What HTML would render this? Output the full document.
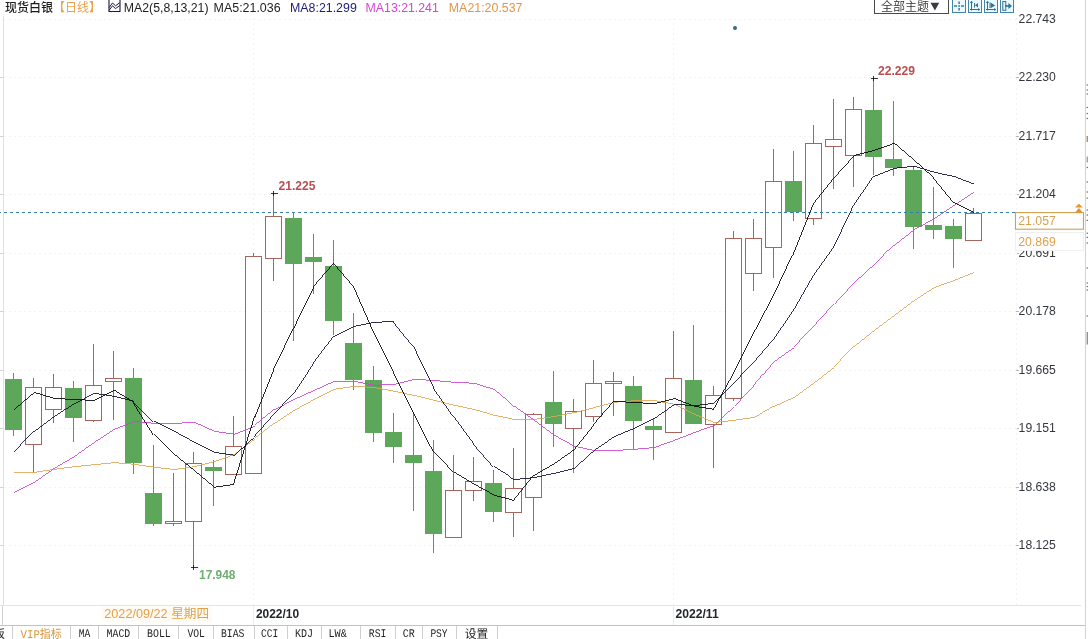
<!DOCTYPE html>
<html lang="zh-CN">
<head>
<meta charset="utf-8">
<title>现货白银 日线</title>
<style>
html,body{margin:0;padding:0;background:#fff;}
body{width:1088px;height:639px;overflow:hidden;position:relative;}
svg{position:absolute;left:0;top:0;display:block;will-change:transform;opacity:0.999;}
text{font-family:"Liberation Sans","Noto Sans CJK SC",sans-serif;font-size:12px;}
.cj{font-weight:350;}
.g{stroke:#f3f3f3;stroke-width:1;stroke-dasharray:2,3;}
.ax{fill:#34373e;font-size:12.5px;}
.tab text{font-family:"Liberation Mono","Noto Sans CJK SC",monospace;font-size:12px;fill:#222;text-rendering:geometricPrecision;}
.tab text.lt{font-size:11.7px;text-rendering:geometricPrecision;}
.sep{stroke:#cfcfcf;stroke-width:1;}
.b{font-weight:bold;}
</style>
</head>
<body>
<svg width="1088" height="639" viewBox="0 0 1088 639">
<rect x="0" y="0" width="1088" height="639" fill="#ffffff"/>
<line x1="4" y1="19.5" x2="1016" y2="19.5" class="g"/>
<line x1="4" y1="77.5" x2="1016" y2="77.5" class="g"/>
<line x1="4" y1="136.5" x2="1016" y2="136.5" class="g"/>
<line x1="4" y1="194.5" x2="1016" y2="194.5" class="g"/>
<line x1="4" y1="253.5" x2="1016" y2="253.5" class="g"/>
<line x1="4" y1="311.5" x2="1016" y2="311.5" class="g"/>
<line x1="4" y1="370.5" x2="1016" y2="370.5" class="g"/>
<line x1="4" y1="428.5" x2="1016" y2="428.5" class="g"/>
<line x1="4" y1="487.5" x2="1016" y2="487.5" class="g"/>
<line x1="4" y1="545.5" x2="1016" y2="545.5" class="g"/>
<line x1="0" y1="77.5" x2="4" y2="77.5" stroke="#d2d2d2" stroke-width="1"/>
<line x1="0" y1="136.5" x2="4" y2="136.5" stroke="#d2d2d2" stroke-width="1"/>
<line x1="0" y1="194.5" x2="4" y2="194.5" stroke="#d2d2d2" stroke-width="1"/>
<line x1="0" y1="253.5" x2="4" y2="253.5" stroke="#d2d2d2" stroke-width="1"/>
<line x1="0" y1="311.5" x2="4" y2="311.5" stroke="#d2d2d2" stroke-width="1"/>
<line x1="0" y1="370.5" x2="4" y2="370.5" stroke="#d2d2d2" stroke-width="1"/>
<line x1="0" y1="428.5" x2="4" y2="428.5" stroke="#d2d2d2" stroke-width="1"/>
<line x1="0" y1="487.5" x2="4" y2="487.5" stroke="#d2d2d2" stroke-width="1"/>
<line x1="0" y1="545.5" x2="4" y2="545.5" stroke="#d2d2d2" stroke-width="1"/>
<line x1="1016" y1="77.5" x2="1019" y2="77.5" stroke="#b4b4b4" stroke-width="1"/>
<line x1="1016" y1="136.5" x2="1019" y2="136.5" stroke="#b4b4b4" stroke-width="1"/>
<line x1="1016" y1="194.5" x2="1019" y2="194.5" stroke="#b4b4b4" stroke-width="1"/>
<line x1="1016" y1="253.5" x2="1019" y2="253.5" stroke="#b4b4b4" stroke-width="1"/>
<line x1="1016" y1="311.5" x2="1019" y2="311.5" stroke="#b4b4b4" stroke-width="1"/>
<line x1="1016" y1="370.5" x2="1019" y2="370.5" stroke="#b4b4b4" stroke-width="1"/>
<line x1="1016" y1="428.5" x2="1019" y2="428.5" stroke="#b4b4b4" stroke-width="1"/>
<line x1="1016" y1="487.5" x2="1019" y2="487.5" stroke="#b4b4b4" stroke-width="1"/>
<line x1="1016" y1="545.5" x2="1019" y2="545.5" stroke="#b4b4b4" stroke-width="1"/>
<line x1="253.5" y1="18" x2="253.5" y2="605" class="g"/>
<line x1="673.5" y1="18" x2="673.5" y2="605" class="g"/>
<line x1="1016.5" y1="18" x2="1016.5" y2="605" class="g"/>
<line x1="3.5" y1="16" x2="3.5" y2="605" stroke="#e0e0e0" stroke-width="1"/>
<line x1="2.5" y1="605" x2="2.5" y2="625" stroke="#d0d0d0" stroke-width="1"/>
<line x1="0" y1="605.5" x2="1081" y2="605.5" stroke="#e4e4e4" stroke-width="1"/>
<line x1="253.5" y1="605" x2="253.5" y2="625" stroke="#ececec" stroke-width="1"/>
<line x1="673.5" y1="605" x2="673.5" y2="625" stroke="#ececec" stroke-width="1"/>
<line x1="0" y1="625.5" x2="1085" y2="625.5" stroke="#c2c2c2" stroke-width="1.1"/>
<line x1="1085.5" y1="0" x2="1085.5" y2="639" stroke="#cfd3d6" stroke-width="1"/>
<g shape-rendering="crispEdges">
<line x1="13.5" y1="372.5" x2="13.5" y2="435.5" stroke="#678c6a" stroke-width="1"/>
<rect x="5.0" y="378.75" width="17" height="51.2" fill="#5ca75a"/>
<line x1="33.5" y1="377.5" x2="33.5" y2="473" stroke="#a6645d" stroke-width="1"/>
<rect x="25.5" y="387.5" width="16" height="56.5" fill="#fff" stroke="#a6645d" stroke-width="1"/>
<line x1="53.5" y1="374" x2="53.5" y2="423" stroke="#a6645d" stroke-width="1"/>
<rect x="45.5" y="387.5" width="16" height="21.5" fill="#fff" stroke="#a6645d" stroke-width="1"/>
<line x1="73.5" y1="381" x2="73.5" y2="442" stroke="#678c6a" stroke-width="1"/>
<rect x="65.0" y="388" width="17" height="29.5" fill="#5ca75a"/>
<line x1="93.5" y1="344" x2="93.5" y2="422" stroke="#a6645d" stroke-width="1"/>
<rect x="85.5" y="385.5" width="16" height="34.5" fill="#fff" stroke="#a6645d" stroke-width="1"/>
<line x1="113.5" y1="351" x2="113.5" y2="419.5" stroke="#a6645d" stroke-width="1"/>
<rect x="105.5" y="378.5" width="16" height="3.0" fill="#fff" stroke="#a6645d" stroke-width="1"/>
<line x1="133.5" y1="368" x2="133.5" y2="474" stroke="#678c6a" stroke-width="1"/>
<rect x="125.0" y="378" width="17" height="84.5" fill="#5ca75a"/>
<line x1="153.5" y1="445" x2="153.5" y2="526" stroke="#678c6a" stroke-width="1"/>
<rect x="145.0" y="493" width="17" height="30.5" fill="#5ca75a"/>
<line x1="173.5" y1="473" x2="173.5" y2="526" stroke="#a6645d" stroke-width="1"/>
<rect x="165.5" y="521.0" width="16" height="2.0" fill="#fff" stroke="#a6645d" stroke-width="1"/>
<line x1="193.5" y1="452" x2="193.5" y2="567.5" stroke="#a6645d" stroke-width="1"/>
<rect x="185.5" y="463.5" width="16" height="57.5" fill="#fff" stroke="#a6645d" stroke-width="1"/>
<line x1="213.5" y1="459.5" x2="213.5" y2="506" stroke="#678c6a" stroke-width="1"/>
<rect x="205.0" y="467" width="17" height="3.5" fill="#5ca75a"/>
<line x1="233.5" y1="416" x2="233.5" y2="474" stroke="#a6645d" stroke-width="1"/>
<rect x="225.5" y="446.5" width="16" height="27.5" fill="#fff" stroke="#a6645d" stroke-width="1"/>
<line x1="253.5" y1="252.5" x2="253.5" y2="473" stroke="#a6645d" stroke-width="1"/>
<rect x="245.5" y="256.5" width="16" height="216.5" fill="#fff" stroke="#a6645d" stroke-width="1"/>
<line x1="273.5" y1="193" x2="273.5" y2="281" stroke="#a6645d" stroke-width="1"/>
<rect x="265.5" y="216.5" width="16" height="41.5" fill="#fff" stroke="#a6645d" stroke-width="1"/>
<line x1="293.5" y1="212.5" x2="293.5" y2="341" stroke="#678c6a" stroke-width="1"/>
<rect x="285.0" y="218" width="17" height="45.5" fill="#5ca75a"/>
<line x1="313.5" y1="234" x2="313.5" y2="294" stroke="#678c6a" stroke-width="1"/>
<rect x="305.0" y="257" width="17" height="4.5" fill="#5ca75a"/>
<line x1="333.5" y1="240" x2="333.5" y2="334.5" stroke="#678c6a" stroke-width="1"/>
<rect x="325.0" y="266" width="17" height="54.5" fill="#5ca75a"/>
<line x1="353.5" y1="313" x2="353.5" y2="389.5" stroke="#678c6a" stroke-width="1"/>
<rect x="345.0" y="343" width="17" height="36.5" fill="#5ca75a"/>
<line x1="373.5" y1="365.5" x2="373.5" y2="442" stroke="#678c6a" stroke-width="1"/>
<rect x="365.0" y="380" width="17" height="52.5" fill="#5ca75a"/>
<line x1="393.5" y1="412.5" x2="393.5" y2="463" stroke="#678c6a" stroke-width="1"/>
<rect x="385.0" y="432" width="17" height="14.5" fill="#5ca75a"/>
<line x1="413.5" y1="413" x2="413.5" y2="510.6" stroke="#678c6a" stroke-width="1"/>
<rect x="405.0" y="455" width="17" height="7.5" fill="#5ca75a"/>
<line x1="433.5" y1="440" x2="433.5" y2="552.5" stroke="#678c6a" stroke-width="1"/>
<rect x="425.0" y="471" width="17" height="62.6" fill="#5ca75a"/>
<line x1="453.5" y1="454.5" x2="453.5" y2="538" stroke="#a6645d" stroke-width="1"/>
<rect x="445.5" y="490.5" width="16" height="47.0" fill="#fff" stroke="#a6645d" stroke-width="1"/>
<line x1="473.5" y1="457" x2="473.5" y2="501" stroke="#a6645d" stroke-width="1"/>
<rect x="465.5" y="481.5" width="16" height="8.5" fill="#fff" stroke="#a6645d" stroke-width="1"/>
<line x1="493.5" y1="470" x2="493.5" y2="522" stroke="#678c6a" stroke-width="1"/>
<rect x="485.0" y="483" width="17" height="28.5" fill="#5ca75a"/>
<line x1="513.5" y1="448" x2="513.5" y2="537" stroke="#a6645d" stroke-width="1"/>
<rect x="505.5" y="488.5" width="16" height="23.5" fill="#fff" stroke="#a6645d" stroke-width="1"/>
<line x1="533.5" y1="413" x2="533.5" y2="530.5" stroke="#a6645d" stroke-width="1"/>
<rect x="525.5" y="414.5" width="16" height="82.5" fill="#fff" stroke="#a6645d" stroke-width="1"/>
<line x1="553.5" y1="371" x2="553.5" y2="447" stroke="#678c6a" stroke-width="1"/>
<rect x="545.0" y="402" width="17" height="21.5" fill="#5ca75a"/>
<line x1="573.5" y1="399" x2="573.5" y2="472.5" stroke="#a6645d" stroke-width="1"/>
<rect x="565.5" y="411.5" width="16" height="16.5" fill="#fff" stroke="#a6645d" stroke-width="1"/>
<line x1="593.5" y1="360" x2="593.5" y2="422" stroke="#a6645d" stroke-width="1"/>
<rect x="585.5" y="383.5" width="16" height="32.5" fill="#fff" stroke="#a6645d" stroke-width="1"/>
<line x1="613.5" y1="372" x2="613.5" y2="415.5" stroke="#a6645d" stroke-width="1"/>
<rect x="605.5" y="381.5" width="16" height="2.0" fill="#fff" stroke="#a6645d" stroke-width="1"/>
<line x1="633.5" y1="376" x2="633.5" y2="449" stroke="#678c6a" stroke-width="1"/>
<rect x="625.0" y="386" width="17" height="34.5" fill="#5ca75a"/>
<line x1="653.5" y1="419" x2="653.5" y2="459.5" stroke="#678c6a" stroke-width="1"/>
<rect x="645.0" y="426" width="17" height="4.0" fill="#5ca75a"/>
<line x1="673.5" y1="331" x2="673.5" y2="432" stroke="#a6645d" stroke-width="1"/>
<rect x="665.5" y="378.5" width="16" height="53.5" fill="#fff" stroke="#a6645d" stroke-width="1"/>
<line x1="693.5" y1="325" x2="693.5" y2="424" stroke="#678c6a" stroke-width="1"/>
<rect x="685.0" y="380" width="17" height="44.0" fill="#5ca75a"/>
<line x1="713.5" y1="386" x2="713.5" y2="467.5" stroke="#a6645d" stroke-width="1"/>
<rect x="705.5" y="395.5" width="16" height="28.5" fill="#fff" stroke="#a6645d" stroke-width="1"/>
<line x1="733.5" y1="231" x2="733.5" y2="400.5" stroke="#a6645d" stroke-width="1"/>
<rect x="725.5" y="238.5" width="16" height="159.5" fill="#fff" stroke="#a6645d" stroke-width="1"/>
<line x1="753.5" y1="219" x2="753.5" y2="291" stroke="#a6645d" stroke-width="1"/>
<rect x="745.5" y="238.5" width="16" height="35.0" fill="#fff" stroke="#a6645d" stroke-width="1"/>
<line x1="773.5" y1="149" x2="773.5" y2="278" stroke="#a6645d" stroke-width="1"/>
<rect x="765.5" y="181.5" width="16" height="66.0" fill="#fff" stroke="#a6645d" stroke-width="1"/>
<line x1="793.5" y1="150.5" x2="793.5" y2="221" stroke="#678c6a" stroke-width="1"/>
<rect x="785.0" y="181" width="17" height="31.0" fill="#5ca75a"/>
<line x1="813.5" y1="124.5" x2="813.5" y2="225" stroke="#a6645d" stroke-width="1"/>
<rect x="805.5" y="143.5" width="16" height="74.7" fill="#fff" stroke="#a6645d" stroke-width="1"/>
<line x1="833.5" y1="99" x2="833.5" y2="189" stroke="#a6645d" stroke-width="1"/>
<rect x="825.5" y="139.5" width="16" height="6.5" fill="#fff" stroke="#a6645d" stroke-width="1"/>
<line x1="853.5" y1="97" x2="853.5" y2="187" stroke="#a6645d" stroke-width="1"/>
<rect x="845.5" y="109.5" width="16" height="45.5" fill="#fff" stroke="#a6645d" stroke-width="1"/>
<line x1="873.5" y1="78" x2="873.5" y2="175" stroke="#678c6a" stroke-width="1"/>
<rect x="865.0" y="110" width="17" height="47.0" fill="#5ca75a"/>
<line x1="893.5" y1="101" x2="893.5" y2="176" stroke="#678c6a" stroke-width="1"/>
<rect x="885.0" y="159" width="17" height="8.5" fill="#5ca75a"/>
<line x1="913.5" y1="166" x2="913.5" y2="249" stroke="#678c6a" stroke-width="1"/>
<rect x="905.0" y="170" width="17" height="57.0" fill="#5ca75a"/>
<line x1="933.5" y1="187" x2="933.5" y2="239" stroke="#678c6a" stroke-width="1"/>
<rect x="925.0" y="225" width="17" height="4.5" fill="#5ca75a"/>
<line x1="953.5" y1="219" x2="953.5" y2="267.5" stroke="#678c6a" stroke-width="1"/>
<rect x="945.0" y="226" width="17" height="13.0" fill="#5ca75a"/>
<line x1="973.5" y1="208" x2="973.5" y2="240.5" stroke="#a6645d" stroke-width="1"/>
<rect x="965.5" y="213.5" width="16" height="27.0" fill="#fff" stroke="#a6645d" stroke-width="1"/>
</g>
<line x1="-2" y1="212.5" x2="1016" y2="212.5" stroke="#337fab" stroke-width="1" stroke-dasharray="3,3" shape-rendering="crispEdges"/>
<polyline points="13.5,472.4 33.5,472.4 53.5,469.3 73.5,466.7 93.5,464.7 113.5,462.6 133.5,464.3 153.5,467.3 173.5,469.5 193.5,466.7 213.5,461.7 233.5,454.5 253.5,439.3 273.5,423.5 293.5,410.3 313.5,399.3 333.5,389.3 353.5,386.3 373.5,387.5 393.5,391.3 413.5,395.5 433.5,400.3 453.5,405.3 473.5,409.5 493.5,415.3 513.5,419.3 533.5,419.3 553.5,416.5 573.5,412.5 593.5,407.5 613.5,402.3 633.5,400.7 653.5,400.5 673.5,404.3 693.5,414.3 713.5,422.5 733.5,420.3 753.5,417.3 773.5,406.3 793.5,397.3 813.5,382.6 833.5,367.4 853.5,346.3 873.5,330.3 893.5,315.5 913.5,300.3 933.5,287.5 953.5,280.3 973.5,272.3" fill="none" stroke="#dfa452" stroke-width="0.85" shape-rendering="crispEdges"/>
<polyline points="13.5,492.3 33.5,482.3 53.5,468.3 73.5,456.5 93.5,442.3 113.5,429.3 133.5,421.5 153.5,423.3 173.5,423.4 193.5,422.3 213.5,431.3 233.5,434.3 253.5,426.3 273.5,409.7 293.5,399.3 313.5,390.3 333.5,381.3 353.5,381.3 373.5,385.3 393.5,384.3 413.5,379.3 433.5,380.5 453.5,382.3 473.5,383.3 493.5,389.5 513.5,406.3 533.5,420.3 553.5,435.3 573.5,446.3 593.5,450.5 613.5,450.5 633.5,449.3 653.5,447.5 673.5,440.3 693.5,432.5 713.5,425.3 733.5,406.3 753.5,385.5 773.5,361.5 793.5,347.3 813.5,326.3 833.5,304.3 853.5,282.5 873.5,264.3 893.5,245.3 913.5,229.5 933.5,218.6 953.5,205.3 973.5,191.7" fill="none" stroke="#c544cb" stroke-width="0.85" shape-rendering="crispEdges"/>
<polyline points="13.5,452.4 33.5,431.3 53.5,416.3 73.5,403.6 93.5,393.4 113.5,396.3 133.5,401.5 153.5,421.5 173.5,431.3 193.5,442.3 213.5,452.3 233.5,455.3 253.5,437.3 273.5,414.6 293.5,393.3 313.5,362.5 333.5,336.3 353.5,326.3 373.5,322.3 393.5,321.5 413.5,346.3 433.5,387.5 453.5,416.3 473.5,443.5 493.5,466.5 513.5,479.5 533.5,477.5 553.5,473.3 573.5,468.3 593.5,450.3 613.5,436.5 633.5,428.3 653.5,418.5 673.5,404.4 693.5,405.6 713.5,403.3 733.5,383.3 753.5,362.4 773.5,339.3 793.5,310.3 813.5,275.3 833.5,247.3 853.5,205.3 873.5,176.3 893.5,168.3 913.5,166.3 933.5,172.3 953.5,176.6 973.5,184.3" fill="none" stroke="#0b0b2c" stroke-width="0.85" shape-rendering="crispEdges"/>
<polyline points="13.5,409.3 33.5,392.4 53.5,398.5 73.5,399.5 93.5,400.5 113.5,390.4 133.5,402.5 153.5,434.5 173.5,454.3 193.5,470.6 213.5,487.3 233.5,484.3 253.5,419.7 273.5,369.5 293.5,327.7 313.5,286.5 333.5,263.3 353.5,286.7 373.5,332.3 393.5,372.5 413.5,412.5 433.5,451.3 453.5,472.3 473.5,484.3 493.5,495.3 513.5,500.3 533.5,475.3 553.5,463.5 573.5,449.5 593.5,424.5 613.5,401.3 633.5,402.5 653.5,403.7 673.5,398.5 693.5,406.3 713.5,409.4 733.5,373.3 753.5,333.3 773.5,295.3 793.5,252.5 813.5,202.5 833.5,177.5 853.5,155.5 873.5,150.3 893.5,143.3 913.5,160.3 933.5,178.4 953.5,202.6 973.5,212.6" fill="none" stroke="#000000" stroke-width="0.85" shape-rendering="crispEdges"/>
<line x1="270.5" y1="193.5" x2="277.5" y2="193.5" stroke="#111" stroke-width="0.85" shape-rendering="crispEdges"/>
<line x1="273.5" y1="191.0" x2="273.5" y2="195.5" stroke="#111" stroke-width="0.85" shape-rendering="crispEdges"/>
<line x1="870.5" y1="78.5" x2="877.5" y2="78.5" stroke="#111" stroke-width="0.85" shape-rendering="crispEdges"/>
<line x1="873.5" y1="76.0" x2="873.5" y2="80.5" stroke="#111" stroke-width="0.85" shape-rendering="crispEdges"/>
<line x1="190.5" y1="567.5" x2="197.5" y2="567.5" stroke="#111" stroke-width="0.85" shape-rendering="crispEdges"/>
<line x1="193.5" y1="565.0" x2="193.5" y2="569.5" stroke="#111" stroke-width="0.85" shape-rendering="crispEdges"/><!-- title row -->
<text x="5" y="12" style="font-weight:500" fill="#1c1c1c" textLength="48" lengthAdjust="spacingAndGlyphs">现货白银</text>
<text x="53" y="12" fill="#e9a34b" textLength="48" lengthAdjust="spacingAndGlyphs">【日线】</text>
<g fill="none" stroke="#1a163e" stroke-width="1.1">
<path d="M109 0 V11.5 H120 V0"/>
<polyline points="109,7.6 112.5,3 115.5,5.8 119.6,2.8" stroke-width="1"/>
<polyline points="109,10.4 112.5,5.8 115.5,8.6 119.6,5.6" stroke-width="1"/>
</g>
<text x="123.8" y="11.5" fill="#222" style="font-size:12.5px" textLength="84.7" lengthAdjust="spacingAndGlyphs">MA2(5,8,13,21)</text>
<text x="213.6" y="11.5" fill="#222" style="font-size:12.5px" textLength="67" lengthAdjust="spacingAndGlyphs">MA5:21.036</text>
<text x="290" y="11.5" fill="#1c1c7c" style="font-size:12.5px" textLength="66.8" lengthAdjust="spacingAndGlyphs">MA8:21.299</text>
<text x="365.6" y="11.5" fill="#d444d6" style="font-size:12.5px" textLength="73.2" lengthAdjust="spacingAndGlyphs">MA13:21.241</text>
<text x="448.8" y="11.5" fill="#e3964a" style="font-size:12.5px" textLength="73.7" lengthAdjust="spacingAndGlyphs">MA21:20.537</text>

<!-- top-right button + icons -->
<rect x="874.5" y="-2" width="74" height="15.5" fill="#fff" stroke="#4a4a4a" stroke-width="1"/>
<text x="881" y="11" class="cj" fill="#333" textLength="48" lengthAdjust="spacingAndGlyphs">全部主题</text>
<path d="M930.5 2.8 L939.3 2.8 L934.9 10.6 Z" fill="#3a3a42"/>
<g stroke="#4284a8" stroke-width="1" fill="#edf8fd">
<rect x="952.5" y="-2" width="13" height="14.5"/>
<rect x="968.5" y="-2" width="13" height="14.5"/>
<rect x="984.5" y="-2" width="13" height="14.5"/>
<rect x="1000.5" y="-2" width="13" height="14.5"/>
</g>
<g fill="#2f7299" stroke="none">
<!-- icon1 dotted cross -->
<rect x="958.3" y="5.2" width="1.6" height="1.6"/>
<rect x="954" y="5.3" width="3" height="1.4"/>
<rect x="961" y="5.3" width="3" height="1.4"/>
<rect x="958.4" y="1.5" width="1.4" height="2.5"/>
<rect x="958.4" y="8" width="1.4" height="2.5"/>
</g>
<g stroke="#2f7299" stroke-width="1" fill="#2f7299">
<!-- icon2 -->
<line x1="971.5" y1="1.5" x2="971.5" y2="10.5"/>
<line x1="970" y1="9.5" x2="979.5" y2="9.5"/>
<line x1="974.5" y1="3" x2="974.5" y2="7.5"/>
<path d="M970.2 3 L971.5 1.2 L972.8 3 M978.2 8.3 L979.8 9.5 L978.2 10.7" fill="none" stroke-width="0.8"/>
<path d="M978 3 L975 5.2 L978 7.5 Z" stroke="none"/>
<!-- icon3 -->
<line x1="987.5" y1="1.5" x2="987.5" y2="10.5"/>
<line x1="986" y1="9.5" x2="995.5" y2="9.5"/>
<line x1="990" y1="2.5" x2="990" y2="8"/>
<path d="M986.2 3 L987.5 1.2 L988.8 3 M994.2 8.3 L995.8 9.5 L994.2 10.7" fill="none" stroke-width="0.8"/>
<path d="M990.6 2.6 L995.2 5.4 L990.6 8.2 Z" stroke="none"/>
<!-- icon4 -->
<rect x="1002.8" y="1.5" width="3" height="8.8" fill="#e9f6fc"/>
<line x1="1005" y1="6" x2="1010" y2="6" stroke-width="1.6"/>
<path d="M1008.4 3 L1012 6 L1008.4 9 Z" stroke="none"/>
</g>

<!-- blue dot -->
<circle cx="735" cy="28" r="2" fill="#2d6e8a"/>

<!-- hi/lo labels -->
<text x="278.5" y="190" class="b" fill="#b84e50" textLength="37" lengthAdjust="spacingAndGlyphs">21.225</text>
<text x="878" y="75" class="b" fill="#b84e50" textLength="37" lengthAdjust="spacingAndGlyphs">22.229</text>
<text x="199" y="579" class="b" fill="#6fae70" textLength="36.5" lengthAdjust="spacingAndGlyphs">17.948</text>

<!-- y-axis labels -->
<g class="ax">
<text x="1018.6" y="22.9" textLength="37.3" lengthAdjust="spacingAndGlyphs">22.743</text>
<text x="1018.6" y="81.4" textLength="37.3" lengthAdjust="spacingAndGlyphs">22.230</text>
<text x="1018.6" y="139.9" textLength="37.3" lengthAdjust="spacingAndGlyphs">21.717</text>
<text x="1018.6" y="198.4" textLength="37.3" lengthAdjust="spacingAndGlyphs">21.204</text>
<text x="1018.6" y="256.9" textLength="37.3" lengthAdjust="spacingAndGlyphs">20.691</text>
<text x="1018.6" y="315.4" textLength="37.3" lengthAdjust="spacingAndGlyphs">20.178</text>
<text x="1018.6" y="373.9" textLength="37.3" lengthAdjust="spacingAndGlyphs">19.665</text>
<text x="1018.6" y="432.4" textLength="37.3" lengthAdjust="spacingAndGlyphs">19.151</text>
<text x="1018.6" y="490.9" textLength="37.3" lengthAdjust="spacingAndGlyphs">18.638</text>
<text x="1018.6" y="549.4" textLength="37.3" lengthAdjust="spacingAndGlyphs">18.125</text>
</g>

<!-- current price box -->
<rect x="1015.5" y="232.5" width="68" height="18" fill="#ffffff" stroke="#efefef" stroke-width="1"/>
<rect x="1015.5" y="212.6" width="68" height="16.6" fill="#ffffff" stroke="#cfa050" stroke-width="1.1"/>
<text x="1018.3" y="224.9" fill="#d6a052" style="font-size:12.5px" textLength="37.5" lengthAdjust="spacingAndGlyphs">21.057</text>
<text x="1018.3" y="245.8" fill="#dfa04e" style="font-size:12.5px" textLength="37.5" lengthAdjust="spacingAndGlyphs">20.869</text>
<path d="M1075 207.6 L1078.9 203.8 L1082.8 207.6 Z M1075 212.6 L1078.9 208 L1082.8 212.6 Z" fill="#e8922e"/>

<!-- right-edge fragments -->
<g fill="#6a6c70">
<rect x="1086.6" y="84.4" width="1.4" height="1.2"/>
<rect x="1086.6" y="89.4" width="1.4" height="1.2"/>
<rect x="1086.6" y="93.4" width="1.4" height="1.2"/>
<rect x="1086.6" y="106.9" width="1.4" height="1.2"/>
<rect x="1086.6" y="112.9" width="1.4" height="1.2"/>
<rect x="1086.6" y="117.9" width="1.4" height="1.2"/>
<rect x="1086.6" y="166.9" width="1.4" height="1.2"/>
<rect x="1086.6" y="181.4" width="1.4" height="1.2"/>
<rect x="1086.6" y="191.4" width="1.4" height="1.2"/>
<rect x="1086.6" y="209.4" width="1.4" height="1.2"/>
<rect x="1086.6" y="214.4" width="1.4" height="1.2"/>
<rect x="1086.6" y="219.8" width="1.4" height="1.2"/>
<rect x="1086.6" y="232.6" width="1.4" height="1.2"/>
<rect x="1086.6" y="236.8" width="1.4" height="1.2"/>
<rect x="1086.6" y="242.4" width="1.4" height="1.2"/>
<rect x="1086.6" y="267.4" width="1.4" height="1.2"/>
<rect x="1086.6" y="282.4" width="1.4" height="1.2"/>
<rect x="1086.6" y="285.9" width="1.4" height="1.2"/>
<rect x="1086.6" y="289.4" width="1.4" height="1.2"/>
<rect x="1086.6" y="315.4" width="1.4" height="1.2"/>
</g>
<rect x="1086.6" y="136" width="1.4" height="6" fill="#b58a68"/>
<rect x="1086.6" y="156.5" width="1.4" height="6" fill="#a3a3a0"/>
<rect x="1086.6" y="197.4" width="1.4" height="1.4" fill="#6a9a6a"/>
<rect x="1086.6" y="332" width="1.4" height="12.5" fill="#9a908a"/>

<!-- time axis -->
<rect x="102" y="606.5" width="110" height="15" fill="#fffaf2"/>
<text x="104.3" y="618" fill="#e3a048" style="font-size:12.5px" textLength="104.8" lengthAdjust="spacingAndGlyphs">2022/09/22 星期四</text>
<text x="255.9" y="618" class="b" fill="#23262d" textLength="43.2" lengthAdjust="spacingAndGlyphs">2022/10</text>
<text x="675.5" y="618" class="b" fill="#23262d" textLength="43.2" lengthAdjust="spacingAndGlyphs">2022/11</text>

<!-- tab bar -->
<g class="sep">
<line x1="12.5" y1="626" x2="12.5" y2="639"/>
<line x1="70.5" y1="626" x2="70.5" y2="639"/>
<line x1="98.5" y1="626" x2="98.5" y2="639"/>
<line x1="138.5" y1="626" x2="138.5" y2="639"/>
<line x1="178.5" y1="626" x2="178.5" y2="639"/>
<line x1="213.5" y1="626" x2="213.5" y2="639"/>
<line x1="254.5" y1="626" x2="254.5" y2="639"/>
<line x1="287.5" y1="626" x2="287.5" y2="639"/>
<line x1="321.5" y1="626" x2="321.5" y2="639"/>
<line x1="360.5" y1="626" x2="360.5" y2="639"/>
<line x1="395.5" y1="626" x2="395.5" y2="639"/>
<line x1="422.5" y1="626" x2="422.5" y2="639"/>
<line x1="456.5" y1="626" x2="456.5" y2="639"/>
<line x1="497.5" y1="626" x2="497.5" y2="639"/>
</g>
<g class="tab">
<text x="-7" y="637.5" textLength="12" lengthAdjust="spacingAndGlyphs">板</text>
<text x="20.6" y="637.5" style="fill:#d6983e" textLength="41.2" lengthAdjust="spacingAndGlyphs"><tspan style="font-size:11.7px">VIP</tspan>指标</text>
<text x="78.7" y="636.6" class="lt" textLength="11.6" lengthAdjust="spacingAndGlyphs">MA</text>
<text x="106.6" y="636.6" class="lt" textLength="23.6" lengthAdjust="spacingAndGlyphs">MACD</text>
<text x="147" y="636.6" class="lt" textLength="23.8" lengthAdjust="spacingAndGlyphs">BOLL</text>
<text x="187.4" y="636.6" class="lt" textLength="17.6" lengthAdjust="spacingAndGlyphs">VOL</text>
<text x="221" y="636.6" class="lt" textLength="23.4" lengthAdjust="spacingAndGlyphs">BIAS</text>
<text x="261" y="636.6" class="lt" textLength="17.2" lengthAdjust="spacingAndGlyphs">CCI</text>
<text x="295" y="636.6" class="lt" textLength="18" lengthAdjust="spacingAndGlyphs">KDJ</text>
<text x="328.4" y="636.6" class="lt" textLength="18.4" lengthAdjust="spacingAndGlyphs">LW&amp;</text>
<text x="368.8" y="636.6" class="lt" textLength="17.5" lengthAdjust="spacingAndGlyphs">RSI</text>
<text x="402.8" y="636.6" class="lt" textLength="12" lengthAdjust="spacingAndGlyphs">CR</text>
<text x="430.4" y="636.6" class="lt" textLength="17.2" lengthAdjust="spacingAndGlyphs">PSY</text>
<text x="464.8" y="637.5" textLength="23.6" lengthAdjust="spacingAndGlyphs">设置</text>
</g>
</svg>
</body>
</html>
